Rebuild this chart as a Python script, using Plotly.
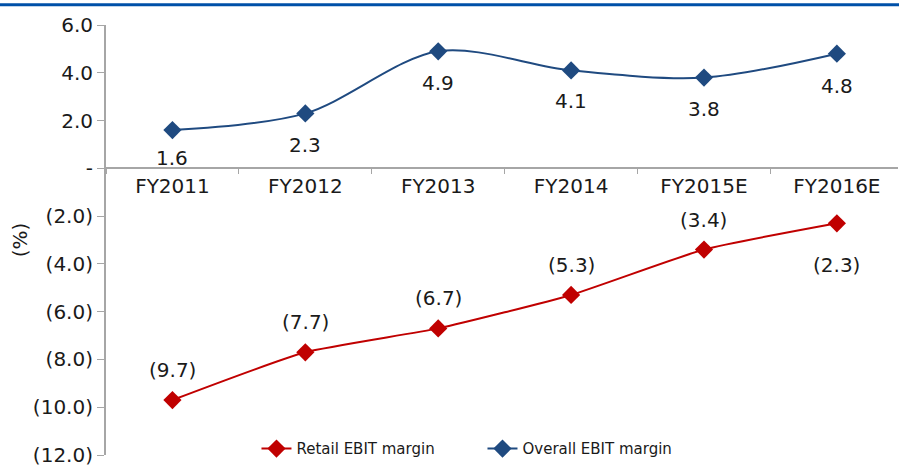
import plotly.graph_objects as go

years = ["FY2011", "FY2012", "FY2013", "FY2014", "FY2015E", "FY2016E"]
retail_ebit = [-9.7, -7.7, -6.7, -5.3, -3.4, -2.3]
overall_ebit = [1.6, 2.3, 4.9, 4.1, 3.8, 4.8]
# label offset in px (positive = above the marker)
retail_shift = [30, 30, 30, 30, 30, -42]
overall_shift = [-28, -32, -32, -31, -31, -32]

y_ticks = [6, 4, 2, 0, -2, -4, -6, -8, -10, -12]
y_ticktext = ["6.0", "4.0", "2.0", "-", "(2.0)", "(4.0)", "(6.0)", "(8.0)", "(10.0)", "(12.0)"]

_RED = "#C00000"
_BLUE = "#1F4A80"
_AXIS = "#A6A6A6"
_TEXT = "#1a1a1a"
_FONT = "DejaVu Sans, sans-serif"


def _fmt(v):
    return f"({abs(v):.1f})" if v < 0 else f"{v:.1f}"


fig = go.Figure()

fig.add_trace(go.Scatter(
    x=years, y=retail_ebit, name="Retail EBIT margin",
    mode="lines+markers",
    line=dict(color=_RED, width=2, shape="spline", smoothing=0.5),
    marker=dict(symbol="diamond", size=14, color=_RED),
))
fig.add_trace(go.Scatter(
    x=years, y=overall_ebit, name="Overall EBIT margin",
    mode="lines+markers",
    line=dict(color=_BLUE, width=2, shape="spline", smoothing=0.9),
    marker=dict(symbol="diamond", size=14, color=_BLUE),
))

for series, shifts in ((retail_ebit, retail_shift), (overall_ebit, overall_shift)):
    for x, v, s in zip(years, series, shifts):
        fig.add_annotation(x=x, y=v, text=_fmt(v), showarrow=False,
                           yshift=s, font=dict(size=20, color=_TEXT, family=_FONT))

# blue rule across the top (title is cropped away in the source)
fig.add_shape(type="line", xref="paper", yref="paper",
              x0=-0.2, x1=1.2, y0=1.047, y1=1.047,
              line=dict(color="#0050A8", width=3))

fig.update_layout(
    width=899, height=466,
    paper_bgcolor="white", plot_bgcolor="white",
    margin=dict(l=106, r=1, t=25, b=11),
    font=dict(family=_FONT, size=20, color=_TEXT),
    showlegend=True,
    legend=dict(
        orientation="h", x=0.19, y=-0.024,
        xanchor="left", yanchor="bottom",
        font=dict(size=15, color=_TEXT),
        bgcolor="rgba(255,255,255,0)",
        traceorder="normal", entrywidth=181,
    ),
)
fig.update_xaxes(
    type="category", range=[-0.5, 5.46],
    anchor="free", position=12 / 18, automargin=False,
    showline=True, linecolor=_AXIS, linewidth=2,
    ticks="outside", tickson="boundaries", ticklen=5, tickcolor=_AXIS,
    showgrid=False, zeroline=False,
    tickfont=dict(size=20, color=_TEXT),
)
fig.update_yaxes(
    range=[-12, 6], tickvals=y_ticks, ticktext=y_ticktext, automargin=False,
    ticklabeloverflow="allow",
    showline=True, linecolor=_AXIS, linewidth=2,
    ticks="outside", ticklen=7, tickcolor=_AXIS,
    showgrid=False, zeroline=False,
    tickfont=dict(size=20, color=_TEXT),
    title=dict(text="(%)", font=dict(size=20, color=_TEXT), standoff=0),
)

fig.write_html("out.html", config={"displayModeBar": False},
               post_script="document.body.style.margin='0px';")
